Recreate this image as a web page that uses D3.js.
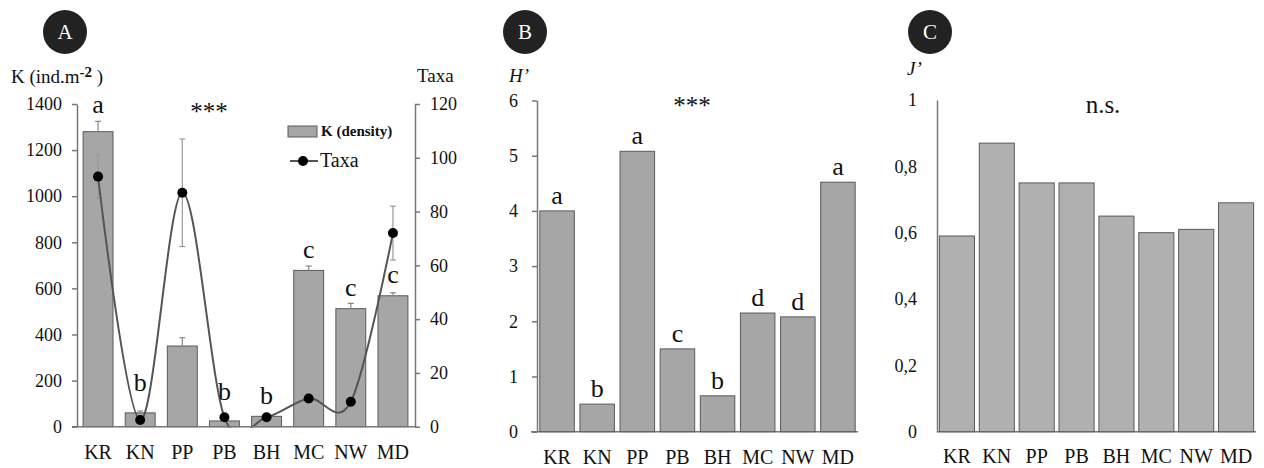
<!DOCTYPE html>
<html>
<head>
<meta charset="utf-8">
<script src="https://d3js.org/d3.v7.min.js"></script>
<style>
  body { margin: 0; background: #fff; }
  svg, svg text { font-family: "Liberation Serif", "Times New Roman", serif; }
  text { fill: #111; }
  .axis path, .axis line { stroke: #777; stroke-width: 1.5; }
  .axis text { font-size: 18px; fill: #111; }
</style>
</head>
<body>
<div id="chart"></div>
<script>
// sites on the x axis
var sites = ["KR", "KN", "PP", "PB", "BH", "MC", "NW", "MD"];

// panel A: density (bars) and taxa (line)
var density    = [1280, 60, 350, 25, 45, 678, 512, 568];
var densityErr = [45, 8, 36, 4, 4, 19, 23, 13];
var taxa       = [93, 2.5, 87, 3.5, 3.5, 10.5, 9.3, 72];
var taxaErr    = [8, 1, 20, 1, 1, 1.5, 1, 10];
var lettersA   = ["a", "b", "", "b", "b", "c", "c", "c"];
var letterAtA  = [1360, 156, null, 116, 98, 731, 568, 622];
var ticksK     = [0, 200, 400, 600, 800, 1000, 1200, 1400];
var ticksTaxa  = [0, 20, 40, 60, 80, 100, 120];

// panel B: Shannon H'
var shannon  = [4.0, 0.5, 5.08, 1.5, 0.65, 2.15, 2.08, 4.52];
var lettersB = ["a", "b", "a", "c", "b", "d", "d", "a"];
var ticksH   = [0, 1, 2, 3, 4, 5, 6];

// panel C: Pielou J'
var pielou  = [0.59, 0.87, 0.75, 0.75, 0.65, 0.60, 0.61, 0.69];
var ticksJ  = [0, 0.2, 0.4, 0.6, 0.8, 1];
var labelsJ = ["0", "0,2", "0,4", "0,6", "0,8", "1"];

var serif = '"Liberation Serif", "Times New Roman", serif';
var W = 1264, H = 468;
var svg = d3.select("#chart").append("svg")
    .attr("width", W).attr("height", H)
    .style("font-family", serif);

function styleAxis(g) {
  g.attr("font-family", null).attr("font-size", null);
  g.selectAll("text").style("font-family", serif).style("font-size", "18px").attr("fill", "#111");
}

function badge(cx, cy, label) {
  svg.append("circle").attr("cx", cx).attr("cy", cy).attr("r", 22).attr("fill", "#222");
  svg.append("text").attr("x", cx).attr("y", cy + 7).attr("text-anchor", "middle")
    .style("fill", "#fff").attr("font-size", "21px").text(label);
}

// ---------- panel A ----------
var xA = d3.scaleBand().domain(sites).range([77, 414]).paddingInner(0.29).paddingOuter(0.145);
var yA = d3.scaleLinear().domain([0, 1400]).range([426.7, 104]);
var yT = d3.scaleLinear().domain([0, 120]).range([426.7, 104]);

badge(65, 32, "A");

svg.append("g").attr("class", "axis")
    .attr("transform", "translate(77,0)")
    .call(d3.axisLeft(yA).tickValues(ticksK).tickFormat(d3.format("d"))
      .tickSize(5).tickSizeOuter(0).tickPadding(10))
    .call(styleAxis);
svg.append("g").attr("class", "axis")
    .attr("transform", "translate(415,0)")
    .call(d3.axisRight(yT).tickValues(ticksTaxa).tickFormat(d3.format("d"))
      .tickSize(5).tickSizeOuter(0).tickPadding(10))
    .call(styleAxis);

var kt = svg.append("text").attr("x", 11).attr("y", 83).attr("font-size", "19px");
kt.append("tspan").text("K (ind.m");
kt.append("tspan").attr("font-weight", "bold").attr("font-size", "15px").attr("dy", -6).text("-2");
kt.append("tspan").attr("dy", 6).text(" )");
svg.append("text").attr("x", 417).attr("y", 82).attr("font-size", "19px").text("Taxa");

var gA = svg.append("g");
gA.selectAll("rect.bar").data(density).enter().append("rect")
    .attr("class", "bar")
    .attr("x", function(d, i) { return xA(sites[i]); })
    .attr("y", function(d) { return yA(d); })
    .attr("width", xA.bandwidth())
    .attr("height", function(d) { return yA(0) - yA(d); })
    .attr("fill", "#a6a6a6").attr("stroke", "#5a5a5a").attr("stroke-width", 1);

// density error bars (upper only)
density.forEach(function(d, i) {
  var cx = xA(sites[i]) + xA.bandwidth() / 2;
  gA.append("line").attr("x1", cx).attr("x2", cx)
    .attr("y1", yA(d)).attr("y2", yA(d + densityErr[i]))
    .attr("stroke", "#888").attr("stroke-width", 1.2);
  gA.append("line").attr("x1", cx - 3).attr("x2", cx + 3)
    .attr("y1", yA(d + densityErr[i])).attr("y2", yA(d + densityErr[i]))
    .attr("stroke", "#888").attr("stroke-width", 1.2);
});

// x axis baseline
svg.append("line").attr("x1", 72).attr("x2", 415).attr("y1", yA(0)).attr("y2", yA(0))
    .attr("stroke", "#777").attr("stroke-width", 1.5);

// taxa error bars
taxa.forEach(function(d, i) {
  var cx = xA(sites[i]) + xA.bandwidth() / 2;
  [d - taxaErr[i], d + taxaErr[i]].forEach(function(v) {
    gA.append("line").attr("x1", cx - 3).attr("x2", cx + 3)
      .attr("y1", yT(v)).attr("y2", yT(v)).attr("stroke", "#999").attr("stroke-width", 1.2);
  });
  gA.append("line").attr("x1", cx).attr("x2", cx)
    .attr("y1", yT(d - taxaErr[i])).attr("y2", yT(d + taxaErr[i]))
    .attr("stroke", "#999").attr("stroke-width", 1.2);
});

// clip the smoothed line at the baseline
svg.append("clipPath").attr("id", "clipA").append("rect")
    .attr("x", 77).attr("y", 0).attr("width", 338).attr("height", yA(0) + 1);

var taxaLine = d3.line()
    .x(function(d, i) { return xA(sites[i]) + xA.bandwidth() / 2; })
    .y(function(d) { return yT(d); })
    .curve(d3.curveCardinal.tension(0));
gA.append("path").datum(taxa).attr("d", taxaLine)
    .attr("clip-path", "url(#clipA)")
    .attr("fill", "none").attr("stroke", "#555").attr("stroke-width", 2);
gA.selectAll("circle.pt").data(taxa).enter().append("circle")
    .attr("class", "pt")
    .attr("cx", function(d, i) { return xA(sites[i]) + xA.bandwidth() / 2; })
    .attr("cy", function(d) { return yT(d); })
    .attr("r", 5).attr("fill", "#000");

gA.selectAll("text.let").data(lettersA).enter().append("text")
    .attr("class", "let")
    .attr("x", function(d, i) { return xA(sites[i]) + xA.bandwidth() / 2; })
    .attr("y", function(d, i) { return letterAtA[i] == null ? 0 : yA(letterAtA[i]); })
    .attr("text-anchor", "middle").attr("font-size", "26px")
    .text(function(d) { return d; });

svg.append("text").attr("x", 209).attr("y", 120).attr("text-anchor", "middle")
    .attr("font-size", "25px").text("***");

// legend
svg.append("rect").attr("x", 288).attr("y", 126).attr("width", 29).attr("height", 11)
    .attr("fill", "#a6a6a6").attr("stroke", "#5a5a5a");
svg.append("text").attr("x", 321).attr("y", 136).attr("font-size", "15px")
    .attr("font-weight", "bold").text("K (density)");
svg.append("line").attr("x1", 290).attr("x2", 318).attr("y1", 161).attr("y2", 161)
    .attr("stroke", "#555").attr("stroke-width", 2);
svg.append("circle").attr("cx", 303).attr("cy", 161).attr("r", 5).attr("fill", "#000");
svg.append("text").attr("x", 320).attr("y", 167).attr("font-size", "20px").text("Taxa");

// x labels A
svg.selectAll("text.xa").data(sites).enter().append("text")
    .attr("x", function(d) { return xA(d) + xA.bandwidth() / 2; })
    .attr("y", yA(0) + 32).attr("text-anchor", "middle").attr("font-size", "20px")
    .text(function(d) { return d; });

// ---------- panel B ----------
var xB = d3.scaleBand().domain(sites).range([537, 858]).paddingInner(0.14).paddingOuter(0.07);
var yB = d3.scaleLinear().domain([0, 6]).range([431.7, 100.5]);

badge(525, 32, "B");
svg.append("g").attr("class", "axis")
    .attr("transform", "translate(537,0)")
    .call(d3.axisLeft(yB).tickValues(ticksH).tickFormat(d3.format("d"))
      .tickSize(5).tickSizeOuter(0).tickPadding(14))
    .call(styleAxis);
svg.append("line").attr("x1", 531).attr("x2", 858).attr("y1", yB(0)).attr("y2", yB(0))
    .attr("stroke", "#777").attr("stroke-width", 1.5);
svg.append("text").attr("x", 509).attr("y", 82).attr("font-size", "19px")
    .attr("font-style", "italic").text("H’");

svg.selectAll("rect.bb").data(shannon).enter().append("rect")
    .attr("class", "bb")
    .attr("x", function(d, i) { return xB(sites[i]); })
    .attr("y", function(d) { return yB(d); })
    .attr("width", xB.bandwidth())
    .attr("height", function(d) { return yB(0) - yB(d); })
    .attr("fill", "#a6a6a6").attr("stroke", "#5a5a5a").attr("stroke-width", 1);
svg.selectAll("text.lb").data(lettersB).enter().append("text")
    .attr("x", function(d, i) { return xB(sites[i]) + xB.bandwidth() / 2; })
    .attr("y", function(d, i) { return yB(shannon[i]) - 7; })
    .attr("text-anchor", "middle").attr("font-size", "26px")
    .text(function(d) { return d; });
svg.append("text").attr("x", 692).attr("y", 114).attr("text-anchor", "middle")
    .attr("font-size", "25px").text("***");
svg.selectAll("text.xb").data(sites).enter().append("text")
    .attr("x", function(d) { return xB(d) + xB.bandwidth() / 2; })
    .attr("y", yB(0) + 32).attr("text-anchor", "middle").attr("font-size", "20px")
    .text(function(d) { return d; });

// ---------- panel C ----------
var xC = d3.scaleBand().domain(sites).range([937, 1256]).paddingInner(0.12).paddingOuter(0.06);
var yC = d3.scaleLinear().domain([0, 1]).range([431.7, 100]);

badge(930, 32, "C");
svg.append("g").attr("class", "axis")
    .attr("transform", "translate(937,0)")
    .call(d3.axisLeft(yC).tickValues(ticksJ).tickSize(0).tickSizeOuter(0).tickPadding(20)
      .tickFormat(function(d, i) { return labelsJ[i]; }))
    .call(styleAxis);
svg.append("line").attr("x1", 937).attr("x2", 1256).attr("y1", yC(0)).attr("y2", yC(0))
    .attr("stroke", "#777").attr("stroke-width", 1.5);
svg.append("text").attr("x", 907).attr("y", 75).attr("font-size", "19px")
    .attr("font-style", "italic").text("J’");

svg.selectAll("rect.bc").data(pielou).enter().append("rect")
    .attr("class", "bc")
    .attr("x", function(d, i) { return xC(sites[i]); })
    .attr("y", function(d) { return yC(d); })
    .attr("width", xC.bandwidth())
    .attr("height", function(d) { return yC(0) - yC(d); })
    .attr("fill", "#b0b0b0").attr("stroke", "#5a5a5a").attr("stroke-width", 1);
svg.append("text").attr("x", 1103).attr("y", 113).attr("text-anchor", "middle")
    .attr("font-size", "25px").text("n.s.");
svg.selectAll("text.xc").data(sites).enter().append("text")
    .attr("x", function(d) { return xC(d) + xC.bandwidth() / 2; })
    .attr("y", yC(0) + 31).attr("text-anchor", "middle").attr("font-size", "20px")
    .text(function(d) { return d; });
</script>
</body>
</html>
